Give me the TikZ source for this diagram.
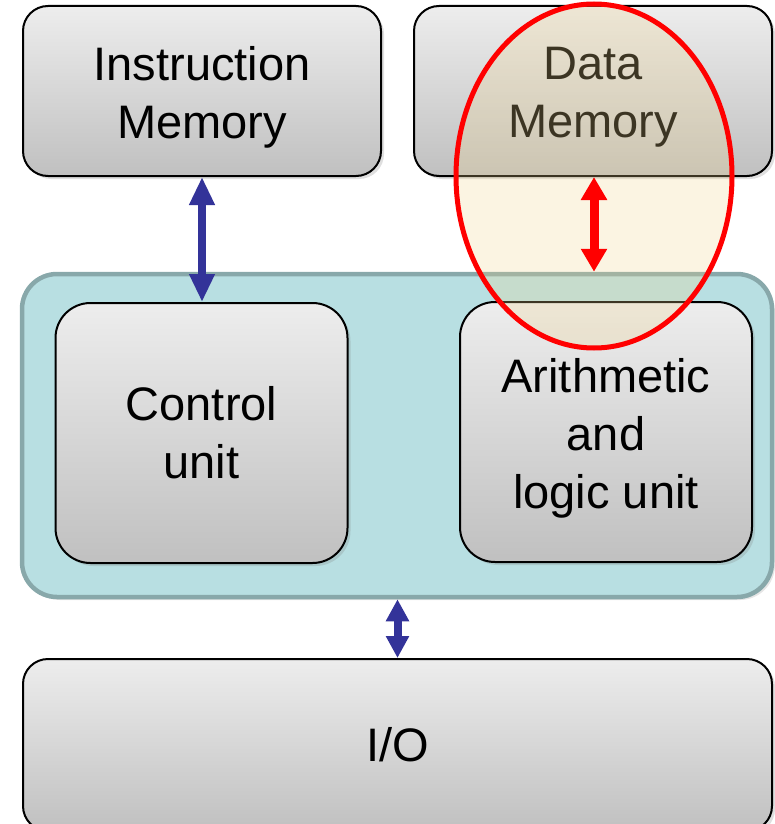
\documentclass[tikz,border=0pt]{standalone}
\usepackage{fontspec}
\setmainfont{Liberation Sans}
\usetikzlibrary{arrows.meta,shadows,calc,shapes.geometric}
\definecolor{boxtop}{RGB}{237,237,237}
\definecolor{boxbot}{RGB}{192,192,192}
\definecolor{cpufill}{RGB}{184,223,226}
\definecolor{cpuline}{RGB}{136,168,170}
\definecolor{busblue}{RGB}{51,51,153}
\definecolor{hlfill}{RGB}{240,212,140}
\definecolor{hlred}{RGB}{255,0,0}
\begin{document}
\begin{tikzpicture}[x=1pt,y=-1pt,
  bigfont/.style={font=\fontsize{47}{58}\selectfont},
  graybox/.style={draw=black, line width=2pt, top color=boxtop, bottom color=boxbot,
    align=center, bigfont, inner sep=0pt,
    drop shadow={opacity=0.25, shadow xshift=3pt, shadow yshift=-3pt}},
  lowtext/.style={label={[bigfont, align=center, yshift=-6pt]center:{#1}}},
  membox/.style={graybox, rounded corners=25pt, minimum width=358pt, minimum height=170pt},
  unitbox/.style={graybox, rounded corners=35pt, minimum width=292pt, minimum height=260pt},
  cpubox/.style={draw=cpuline, line width=4.5pt, fill=cpufill, rounded corners=35pt,
    minimum width=750pt, minimum height=323pt, inner sep=0pt,
    drop shadow={opacity=0.2, shadow xshift=3pt, shadow yshift=-3pt}},
  bus/.style={line width=8pt, {Triangle[width=24pt,length=28pt]}-{Triangle[width=24pt,length=28pt]}},
  shortbus/.style={line width=8pt, {Triangle[width=22pt,length=22pt]}-{Triangle[width=22pt,length=22pt]}},
  redbus/.style={line width=9pt, {Triangle[width=25pt,length=23pt]}-{Triangle[width=25pt,length=23pt]}},
  highlight/.style={draw=hlred, line width=5pt, fill=hlfill, fill opacity=0.25}
]
\useasboundingbox (0,0) rectangle (775,824);

\node[membox, lowtext={Instruction\\Memory}] (im) at (202,91) {};
\node[membox, lowtext={Data\\Memory}] (dm) at (593,91) {};

\node[cpubox] (cpu) at (397,435.5) {};
\node[unitbox] (cu) at (201.5,433) {Control\\unit};
\node[unitbox, lowtext={Arithmetic\\and\\logic unit}] (alu) at (606,432) {};

\node[membox, minimum width=749pt, minimum height=172pt] (io) at (397.5,745) {I/O};

\draw[bus, busblue] (im.south) -- (cu.north -| im.south);
\draw[shortbus, busblue] (cpu.south -| io.north) -- (io.north);

\node[highlight, ellipse, minimum width=276pt, minimum height=344pt, inner sep=0pt] (hl) at (594,176) {};
\draw[redbus, hlred] (dm.south -| hl.center) -- (cpu.north -| hl.center);
\end{tikzpicture}
\end{document}
